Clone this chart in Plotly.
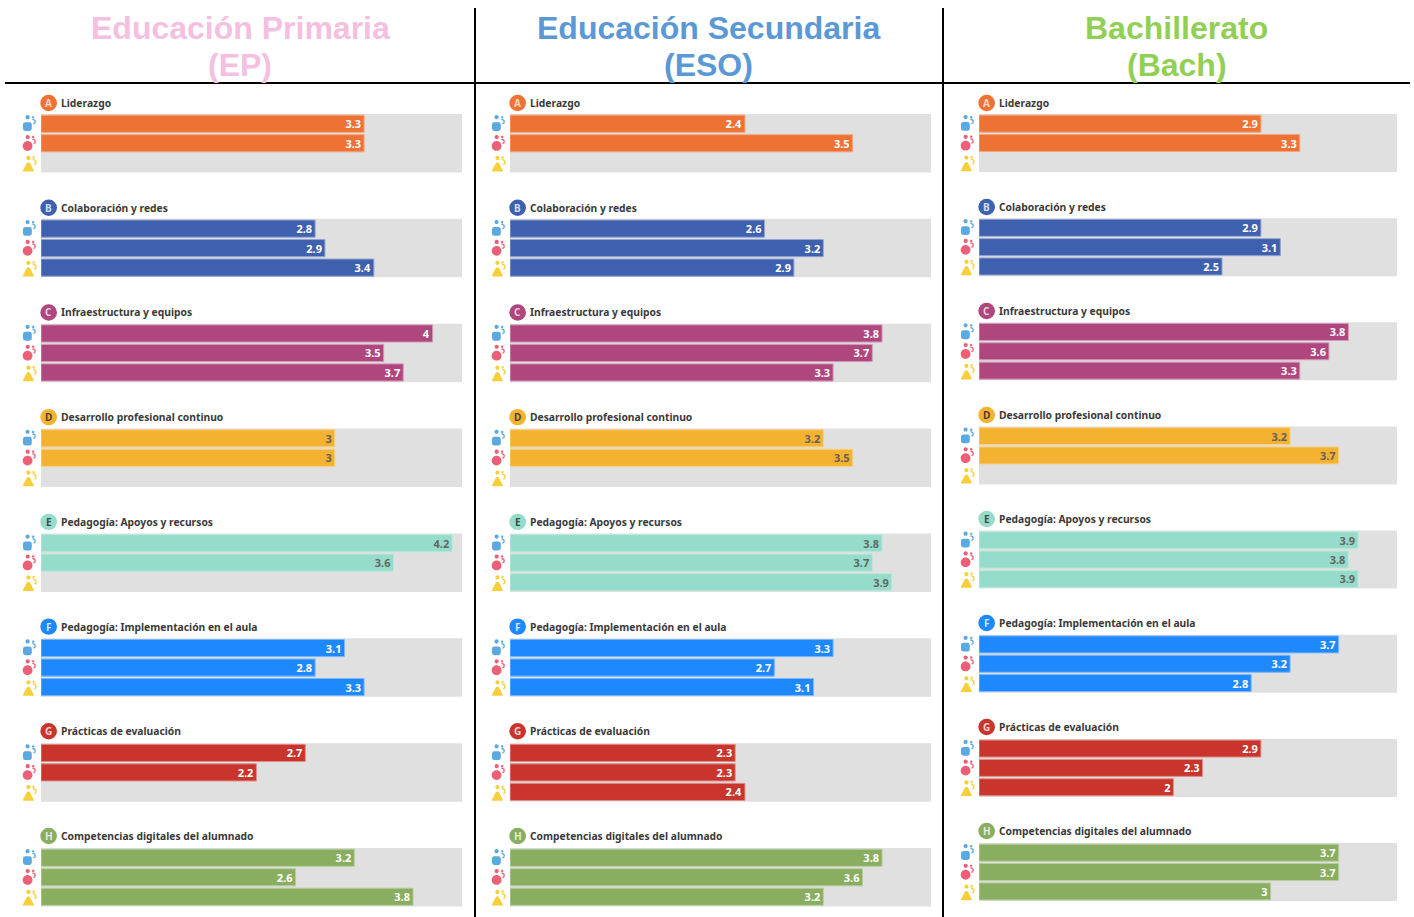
import plotly.graph_objects as go

LETTERS = ["A", "B", "C", "D", "E", "F", "G", "H"]
AREAS = ["Liderazgo", "Colaboración y redes", "Infraestructura y equipos",
         "Desarrollo profesional continuo", "Pedagogía: Apoyos y recursos",
         "Pedagogía: Implementación en el aula", "Prácticas de evaluación",
         "Competencias digitales del alumnado"]
GROUPS = ["Directivos", "Profesorado", "Alumnado"]
AREA_COLORS = ["#EE7233", "#3F5FAF", "#B0467E", "#F4B231",
               "#95DCCA", "#1E88FF", "#C9352D", "#8AAE60"]
EDGE_COLORS = ["#F3A67E", "#93A5D2", "#D29BB9", "#F7D186",
               "#BFE7DC", "#7DB8FB", "#E08F8A", "#B7CDA0"]
VALUE_COLORS = ["white", "white", "white", "#666058",
                "#5F6866", "white", "white", "white"]
BADGE_TEXT = ["#F6D5C2", "#D5DDF0", "#EBD0DF", "#4A4234",
              "#3F4A47", "#D5E7FF", "#F3D3D0", "#E3ECD8"]

EP = [[3.3, 3.3, None], [2.8, 2.9, 3.4], [4, 3.5, 3.7], [3, 3, None],
      [4.2, 3.6, None], [3.1, 2.8, 3.3], [2.7, 2.2, None], [3.2, 2.6, 3.8]]
ESO = [[2.4, 3.5, None], [2.6, 3.2, 2.9], [3.8, 3.7, 3.3], [3.2, 3.5, None],
       [3.8, 3.7, 3.9], [3.3, 2.7, 3.1], [2.3, 2.3, 2.4], [3.8, 3.6, 3.2]]
BACH = [[2.9, 3.3, None], [2.9, 3.1, 2.5], [3.8, 3.6, 3.3], [3.2, 3.7, None],
        [3.9, 3.8, 3.9], [3.7, 3.2, 2.8], [2.9, 2.3, 2.0], [3.7, 3.7, 3.0]]

TITLES = [("Educación Primaria", "(EP)", "#F5BFDF"),
          ("Educación Secundaria", "(ESO)", "#5B99D6"),
          ("Bachillerato", "(Bach)", "#92CF55")]

W, H = 1414, 917
MAX_VALUE = 4.3
# column layout in pixels: left, right, first top, row step, plot height, title centre, label step
COLS = [(41, 462, 114, 104.86, 58.5, 240, 104.72),
        (510, 931, 114, 104.86, 58.5, 708, 104.72),
        (979, 1397, 114, 104.15, 58, 1176.5, 104.0)]
DATA = [EP, ESO, BACH]
LABEL_TOP = 103

LABEL_FONT = "Noto Sans"
ICON_COLORS = ["#5AA9E0", "#EC5F76", "#F7CF3B"]


def disc(cx, cy, r):
    k = 0.5523 * r
    return (f"M{cx-r},{cy} C{cx-r},{cy+k} {cx-k},{cy+r} {cx},{cy+r} "
            f"C{cx+k},{cy+r} {cx+r},{cy+k} {cx+r},{cy} "
            f"C{cx+r},{cy-k} {cx+k},{cy-r} {cx},{cy-r} "
            f"C{cx-k},{cy-r} {cx-r},{cy-k} {cx-r},{cy} Z ")


def rounded(x0, y0, x1, y1, r):
    return (f"M{x0+r},{y0} L{x1-r},{y0} Q{x1},{y0} {x1},{y0+r} L{x1},{y1-r} "
            f"Q{x1},{y1} {x1-r},{y1} L{x0+r},{y1} Q{x0},{y1} {x0},{y1-r} "
            f"L{x0},{y0+r} Q{x0},{y0} {x0+r},{y0} Z ")


def blob(x0, y0, x1, y1):
    mid = (x0 + x1) / 2
    return (f"M{x0},{y0} L{x1},{y0} Q{x1+0.4},{y0+1.2} {x1-1},{y0+3} "
            f"L{mid+1.6},{y1-0.6} Q{mid},{y1+1} {mid-1.6},{y1-0.6} "
            f"L{x0+1},{y0+3} Q{x0-0.4},{y0+1.2} {x0},{y0} Z ")


# icon glyphs in pixels relative to bar start / bar centre (y up)
ICON_BODIES = [
    rounded(-18, -7.2, -9.2, 1.6, 2.4) + disc(-13.4, 6.6, 2.1) + disc(-7.8, 6.4, 1.2),
    disc(-13.4, -2.7, 4.9) + disc(-13.3, 6.2, 2.1) + disc(-7.8, 6.2, 1.2),
    blob(-18, -8.8, -7.2, 0.2) + disc(-12.6, 4.8, 2.1) + disc(-7.4, 5.2, 1.2),
]
ICON_TAILS = ["M-8.6,4.4 C-4.6,3.8 -5.4,0.2 -7.6,0",
              "M-8.6,4.2 C-4.6,3.6 -5.4,0 -7.6,-0.2",
              "M-8.2,3.4 C-4,2.8 -4.4,-1.4 -6.8,-1.8"]

fig = go.Figure()
shapes, annotations = [], []
axis_index = 0

for col, (left, right, top0, step, height, centre, label_step) in enumerate(COLS):
    for row, values in enumerate(DATA[col]):
        axis_index += 1
        sfx = "" if axis_index == 1 else str(axis_index)
        xname, yname = f"x{sfx}", f"y{sfx}"
        top = top0 + row * step
        label_up = top - (LABEL_TOP + row * label_step)
        fig.add_trace(go.Bar(
            x=values, y=GROUPS, orientation="h", xaxis=xname, yaxis=yname,
            width=0.88, showlegend=False, cliponaxis=False,
            marker=dict(color=AREA_COLORS[row],
                        line=dict(color=EDGE_COLORS[row], width=1)),
            texttemplate="%{x}", textposition="inside", insidetextanchor="end",
            textangle=0, constraintext="none",
            insidetextfont=dict(family=LABEL_FONT, size=11, weight=700,
                                color=VALUE_COLORS[row]),
        ))
        fig.update_layout({
            f"xaxis{sfx}": dict(domain=[left / W, right / W], range=[0, MAX_VALUE],
                                visible=False, anchor=yname, fixedrange=True),
            f"yaxis{sfx}": dict(domain=[1 - (top + height) / H, 1 - top / H],
                                categoryorder="array", categoryarray=GROUPS,
                                autorange=False, range=[2.5, -0.5],
                                visible=False, anchor=xname, fixedrange=True),
        })
        xd, yd = f"{xname} domain", f"{yname} domain"
        shapes.append(dict(type="rect", xref=xd, yref=yd, x0=0, x1=1, y0=0, y1=1,
                           fillcolor="#E0E0E0", line_width=0, layer="below"))
        # area badge
        shapes.append(dict(type="circle", xref=xd, yref=yd,
                           xsizemode="pixel", ysizemode="pixel",
                           xanchor=0, yanchor=1, x0=-0.7, x1=16,
                           y0=label_up - 8.2, y1=label_up + 8.2,
                           fillcolor=AREA_COLORS[row], line_width=0))
        annotations.append(dict(text=LETTERS[row], xref=xd, yref=yd, x=0, y=1,
                                xanchor="center", yanchor="middle", xshift=7.7, yshift=label_up,
                                showarrow=False,
                                font=dict(family=LABEL_FONT, size=10, weight=700,
                                          color=BADGE_TEXT[row])))
        annotations.append(dict(text=AREAS[row], xref=xd, yref=yd, x=0, y=1,
                                xanchor="left", yanchor="middle", xshift=18, yshift=label_up,
                                showarrow=False,
                                font=dict(family=LABEL_FONT, size=10.3, weight=700,
                                          color="#3A3A3A")))
        # group icons
        for g in range(3):
            frac = (2.5 - g) / 3
            common = dict(type="path", xref=xd, yref=yd, xsizemode="pixel",
                          ysizemode="pixel", xanchor=0, yanchor=frac)
            shapes.append(dict(common, path=ICON_BODIES[g],
                               fillcolor=ICON_COLORS[g], line_width=0))
            shapes.append(dict(common, path=ICON_TAILS[g], fillcolor="rgba(0,0,0,0)",
                               line=dict(color=ICON_COLORS[g], width=1.3)))

    line1, line2, colour = TITLES[col]
    for text, y_mid in ((line1, 28), (line2, 65)):
        annotations.append(dict(text=text, xref="paper", yref="paper",
                                x=centre / W, y=1 - y_mid / H,
                                xanchor="center", yanchor="middle", showarrow=False,
                                font=dict(family="Liberation Sans", size=32, weight=700,
                                          color=colour)))

# table rules
for x_px in (475, 943):
    shapes.append(dict(type="line", xref="paper", yref="paper",
                       x0=x_px / W, x1=x_px / W, y0=0, y1=1 - 8 / H,
                       line=dict(color="black", width=2)))
shapes.append(dict(type="line", xref="paper", yref="paper",
                   x0=5 / W, x1=1410 / W, y0=1 - 83 / H, y1=1 - 83 / H,
                   line=dict(color="black", width=2)))

fig.update_layout(width=W, height=H, margin=dict(l=0, r=0, t=0, b=0),
                  paper_bgcolor="white", plot_bgcolor="rgba(0,0,0,0)",
                  barmode="overlay", shapes=shapes, annotations=annotations,
                  showlegend=False)

fig.write_html("out.html", config={"displayModeBar": False},
               post_script="document.body.style.margin='0';")
